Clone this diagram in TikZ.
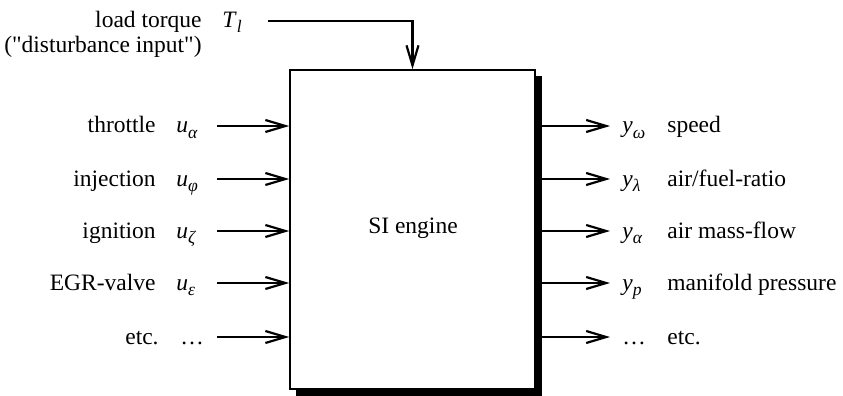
\documentclass[tikz,border=0pt]{standalone}
\usepackage{fontspec}
\setmainfont{Liberation Serif}
\newfontfamily\qfont{Liberation Serif}
\usetikzlibrary{arrows.meta}
\newcommand\symb[2]{\textit{#1}\raisebox{-0.5ex}{\fontsize{8.8}{9}\selectfont\itshape #2}}
\newcommand\dq{{\qfont "}}
\begin{document}
\begin{tikzpicture}[x=0.5pt,y=-0.5pt,
  every node/.style={font=\fontsize{11.75}{14}\selectfont, inner sep=0pt},
  arr/.style={line width=1.1pt, -{Straight Barb[length=10pt,width=6pt,line width=1.1pt]}},
  lbl/.style={anchor=base east},
  sym/.style={anchor=base west},
  enginebox/.style={draw, line width=0.8pt, fill=white, minimum width=122.5pt, minimum height=159.5pt},
  shadowbox/.style={fill=black, minimum width=123pt, minimum height=160pt}]
\useasboundingbox (0,0) rectangle (843,396);
% box and shadow
\node[shadowbox] (shadow) at (419,236) {};
\node[enginebox] (engine) at (412.5,229.5) {};
\node (title) at (413,228) {SI engine};
% disturbance input
\node[lbl] (lt) at (202,27) {load torque};
\node[lbl] (dist) at (202,53) {(\dq disturbance input\dq)};
\node[sym] (tl) at (222,27) {\symb{T}{l}};
\coordinate (tstart) at (268,21);
\draw[arr] (tstart) -| (engine.north);
% inputs
\foreach \y/\name/\txt/\s/\sub [count=\i] in {126/throttle/throttle/u/α, 179/inj/injection/u/φ, 231/ign/ignition/u/ζ, 283/egr/EGR-valve/u/ε}{
  \node[lbl] (l\name) at (156,\y+7) {\txt};
  \node[sym] (s\name) at (176,\y+7) {\symb{\s}{\sub}};
  \coordinate (in\i) at (217,\y);
  \draw[arr] (in\i) -- (in\i -| engine.west);
}
\node[lbl] (letc) at (159,344) {etc.};
\node[sym] (setc) at (180,344) {…};
\coordinate (in5) at (217,337);
\draw[arr] (in5) -- (in5 -| engine.west);
% outputs
\foreach \y/\name/\txt/\s/\sub [count=\i] in {126/speed/speed/y/ω, 179/afr/{air/fuel-ratio}/y/λ, 231/amf/air mass-flow/y/α, 283/mp/manifold pressure/y/p}{
  \coordinate (out\i) at (610,\y);
  \draw[arr] (out\i -| shadow.east) -- (out\i);
  \node[sym] (o\name) at (622,\y+7) {\symb{\s}{\sub}};
  \node[sym] (r\name) at (667,\y+7) {\txt};
}
\coordinate (out5) at (610,337);
\draw[arr] (out5 -| shadow.east) -- (out5);
\node[sym] (oetc) at (622,344) {…};
\node[sym] (retc) at (667,344) {etc.};
\end{tikzpicture}
\end{document}
